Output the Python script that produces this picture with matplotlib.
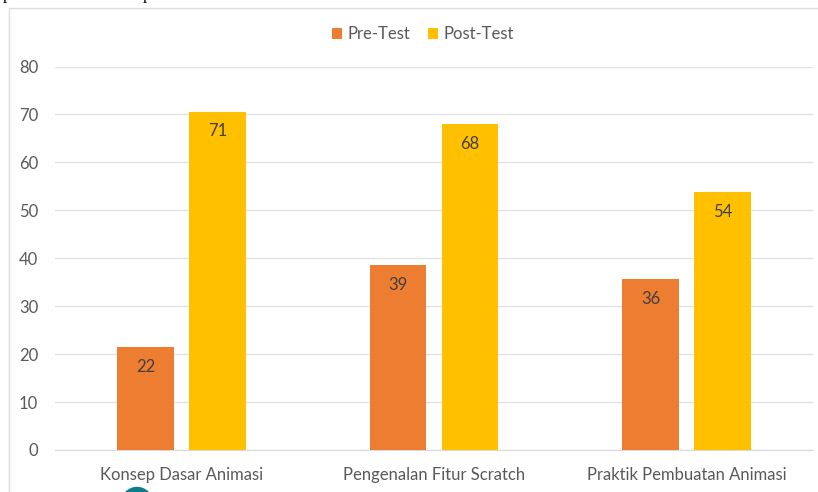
import numpy as np
import matplotlib.pyplot as plt
from matplotlib.patches import Rectangle, Circle

plt.rcParams['font.family'] = ['Lato', 'DejaVu Sans']

categories = ["Konsep Dasar Animasi", "Pengenalan Fitur Scratch", "Praktik Pembuatan Animasi"]
pre_test = [21.5, 38.6, 35.7]
post_test = [70.6, 68.0, 53.8]
y_ticks = [0, 10, 20, 30, 40, 50, 60, 70, 80]

W, H = 818, 492
fig = plt.figure(figsize=(W/100, H/100), dpi=100)

# chart frame, runs off the bottom of the crop
fig.add_artist(Rectangle((9/W, -0.02), 830/W, 1.02-8/H, transform=fig.transFigure,
                         fill=False, edgecolor="#dddddd", linewidth=1.0))

ax = fig.add_axes([55/W, 1-450/H, 758/W, (450-66.5)/H])
x = np.arange(3)
bar_w = 0.224
off = 0.1425
b1 = ax.bar(x-off, pre_test, bar_w, color="#ED7D31", label="Pre-Test", zorder=3)
b2 = ax.bar(x+off, post_test, bar_w, color="#FFC000", label="Post-Test", zorder=3)

for bars in (b1, b2):
    ax.bar_label(bars, labels=["%.0f" % b.get_height() for b in bars], label_type="edge",
                 padding=-20, fontsize=12, color="#404040", zorder=4)

ax.set_xlim(-0.5, 2.5)
ax.set_ylim(0, 80)
ax.set_yticks(y_ticks)
ax.set_xticks(x)
ax.set_xticklabels(categories)
ax.tick_params(axis="both", length=0, labelsize=12, labelcolor="#595959")
ax.tick_params(axis="x", pad=12)
ax.tick_params(axis="y", pad=12)
ax.grid(axis="y", color="#e2e2e2", linewidth=1.0, zorder=0)
ax.set_axisbelow(True)
for s in ax.spines.values():
    s.set_visible(False)
ax.spines["bottom"].set_visible(True)
ax.spines["bottom"].set_color("#d9d9d9")

fig.legend(loc="upper center", bbox_to_anchor=(423/W, 1-13/H), ncol=2, frameon=False,
           fontsize=12, labelcolor="#595959", handlelength=0.6, handleheight=0.6,
           handletextpad=0.3, columnspacing=1.1, borderpad=0.3)

# bits of the surrounding page: clipped text line above, teal circle below
fig.text(3/W, 1+1/H, "p", family="Liberation Serif", fontsize=12, color="black", va="baseline")
fig.text(143/W, 1+1/H, "p", family="Liberation Serif", fontsize=12, color="black", va="baseline")
fig.add_artist(Circle((137, -11), 15.5, transform=None, color="#0e7c8c"))

fig.savefig("out.png", dpi=100)
